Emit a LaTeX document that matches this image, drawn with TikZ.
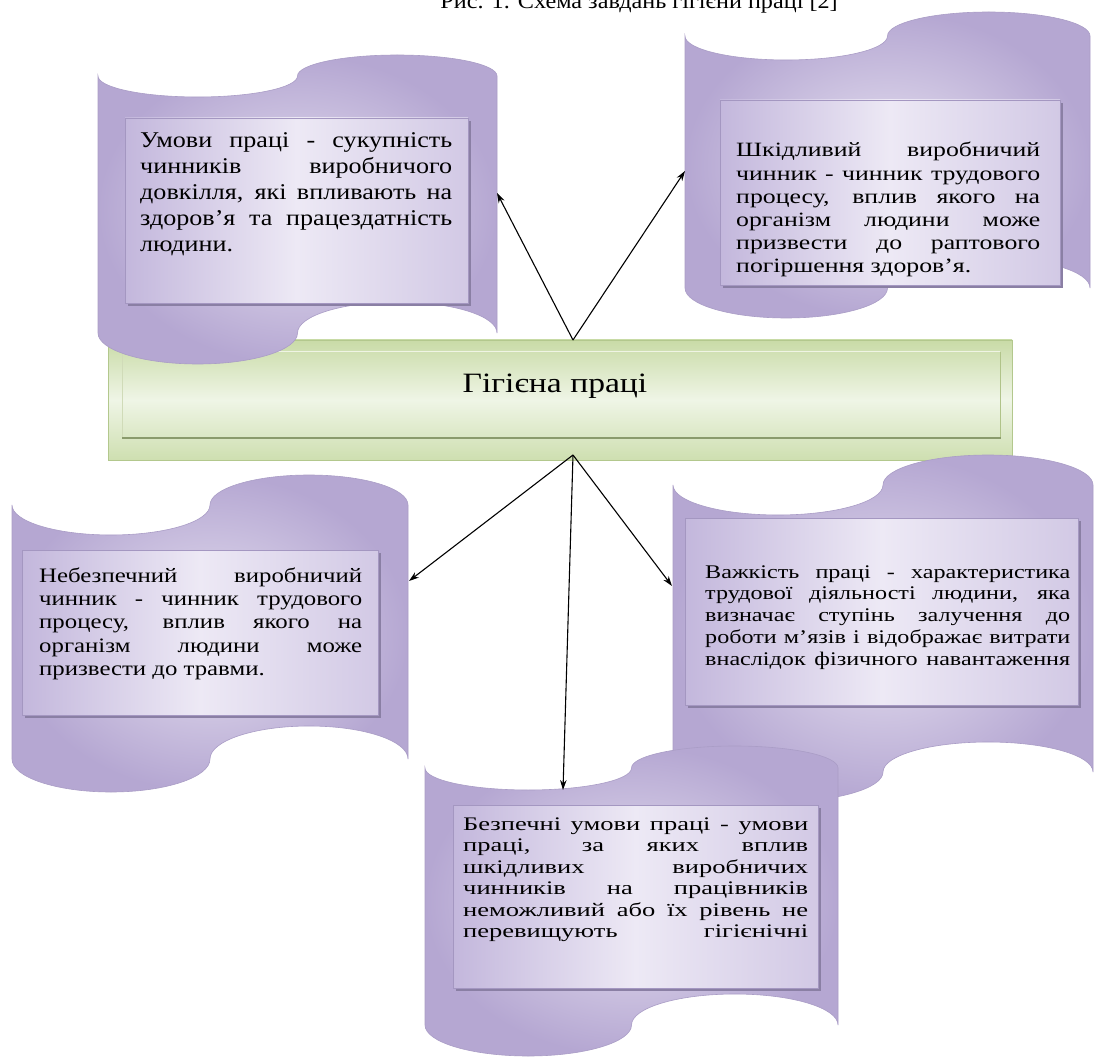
\documentclass[tikz,border=0pt]{standalone}
\usepackage{fontspec}
\setmainfont{Liberation Serif}
\newfontfamily\fTL{Liberation Serif}[FakeStretch=1.16]
\newfontfamily\fTR{Liberation Serif}[FakeStretch=1.27]
\newfontfamily\fBL{Liberation Serif}[FakeStretch=1.21]
\newfontfamily\fBR{Liberation Serif}[FakeStretch=1.25]
\newfontfamily\fB{Liberation Serif}[FakeStretch=1.38]
\newfontfamily\fG{Liberation Serif}[FakeStretch=1.2]
\newfontfamily\fT{Liberation Serif}[FakeStretch=1.1]
\usetikzlibrary{arrows.meta}
\definecolor{pdark}{HTML}{B5A7D2}
\definecolor{plight}{HTML}{E7E2F1}
\definecolor{pedge}{HTML}{AA9DC6}
\definecolor{rleft}{HTML}{C3B7DC}
\definecolor{rmid}{HTML}{EDE9F5}
\definecolor{rright}{HTML}{D2C9E5}
\definecolor{redge}{HTML}{A497C1}
\definecolor{rshadow}{HTML}{8A7FA4}
\definecolor{gtop}{HTML}{C9DBA7}
\definecolor{gmid}{HTML}{EFF5E6}
\definecolor{gbot}{HTML}{CEDFB0}
\definecolor{gedge}{HTML}{B3C88D}
\definecolor{gline}{HTML}{B0C389}
\definecolor{gshadow}{HTML}{8A9B6C}
\newlength\bw
\newcommand\J[1]{\hbox to \bw{#1}}
\newcommand\tbox[5]{\vtop{#1\fontsize{#2}{#4}\selectfont\setlength\bw{#3}\baselineskip=#4pt\relax #5}}
\tikzset{
  tapeshade/.style={inner color=plight, outer color=pdark, draw=pedge, line width=0.6pt},
  rectshade/.style={left color=rleft, right color=rright, middle color=rmid, draw=redge, line width=0.8pt},
  rectshadow/.style={fill=rshadow},
  barshade/.style={top color=gtop, bottom color=gbot, middle color=gmid, draw=gedge, line width=0.8pt},
  arr/.style={-{Stealth[length=10pt,width=6.5pt]}, line width=1.1pt, black},
  txt/.style={inner sep=0pt, anchor=base west, text=black},
}
\newcommand\tape[6]{%
  \pgfmathsetmacro\tw{(#2-#1)/4}%
  \pgfmathsetmacro\tk{0.5523*\tw}%
  \pgfmathsetmacro\xa{#1+\tw}\pgfmathsetmacro\xb{#1+2*\tw}\pgfmathsetmacro\xc{#1+3*\tw}%
  \pgfmathsetmacro\kt{0.5523*#4}\pgfmathsetmacro\kb{0.5523*#6}%
  \shade[tapeshade] (#1,#3) .. controls (#1,#3+\kt) and (\xa-\tk,#3+#4) .. (\xa,#3+#4)
    .. controls (\xa+\tk,#3+#4) and (\xb,#3+\kt) .. (\xb,#3)
    .. controls (\xb,#3-\kt) and (\xc-\tk,#3-#4) .. (\xc,#3-#4)
    .. controls (\xc+\tk,#3-#4) and (#2,#3-\kt) .. (#2,#3)
    -- (#2,#5)
    .. controls (#2,#5-\kb) and (\xc+\tk,#5-#6) .. (\xc,#5-#6)
    .. controls (\xc-\tk,#5-#6) and (\xb,#5-\kb) .. (\xb,#5)
    .. controls (\xb,#5+\kb) and (\xa+\tk,#5+#6) .. (\xa,#5+#6)
    .. controls (\xa-\tk,#5+#6) and (#1,#5+\kb) .. (#1,#5)
    -- cycle;}
\newcommand\irect[4]{%
  \fill[rectshadow] (#1+3,#2+3) rectangle (#3+3,#4+3);
  \shade[rectshade] (#1,#2) rectangle (#3,#4);}
\begin{document}
\begin{tikzpicture}[x=1pt,y=-1pt]
\useasboundingbox (0,0) rectangle (1095,1064);
\fill[white] (0,0) rectangle (1095,1064);
% title (cut off by the top edge, as in the reference)
\node[txt, anchor=base east] (title) at (838,9) {\fT\fontsize{22}{26}\selectfont Рис. 1. Схема завдань гігієни праці [2]};
% central bar
\node[barshade, minimum width=904pt, minimum height=120pt, inner sep=0pt] (hyg) at (560,400) {};
\draw[white!70!gtop, line width=1pt] (122,352) -- (1000,352);
\draw[gline, line width=1pt] (1000,352) -- (1000,438);
\draw[gline!60!white, line width=0.8pt] (122,352) -- (122,438);
\draw[gshadow, line width=2.5pt] (122,438) -- (1001,438);
\node[txt, anchor=base] (hygtxt) at (555,393) {\fG\fontsize{28}{32}\selectfont Гігієна праці};
% wavy shapes
\tape{98}{497}{76}{21}{333}{31}
\tape{685}{1090}{36}{24}{288}{30}
\tape{12}{408}{505}{30}{759}{33}
\tape{673}{1093}{485}{30}{772}{30}
\tape{425}{838}{768}{22}{1025}{31}
% inner boxes
\irect{125}{118}{468}{303}
\irect{720}{100}{1060}{285}
\irect{22}{550}{378}{715}
\irect{685}{518}{1078}{705}
\irect{453}{805}{818}{988}
% texts
\node[txt] (tl) at (140,148) {\tbox{\fTL}{22.5}{312pt}{25.8}{%
  \J{Умови праці - сукупність}
  \J{чинників виробничого}
  \J{довкілля, які впливають на}
  \J{здоров’я та працездатність}
  \hbox{людини.}}};
\node[txt] (tr) at (736,157) {\tbox{\fTR}{20.3}{304pt}{23.2}{%
  \J{Шкідливий виробничий}
  \J{чинник - чинник трудового}
  \J{процесу, вплив якого на}
  \J{організм людини може}
  \J{призвести до раптового}
  \hbox{погіршення здоров’я.}}};
\node[txt] (bl) at (39,582) {\tbox{\fBL}{20.5}{323pt}{23.4}{%
  \J{Небезпечний виробничий}
  \J{чинник - чинник трудового}
  \J{процесу, вплив якого на}
  \J{організм людини може}
  \hbox{призвести до травми.}}};
\node[txt] (br) at (705,578) {\tbox{\fBR}{19.3}{365pt}{21.8}{%
  \J{Важкість праці - характеристика}
  \J{трудової діяльності людини, яка}
  \J{визначає ступінь залучення до}
  \J{роботи м’язів і відображає витрати}
  \J{внаслідок фізичного навантаження}}};
\node[txt] (bm) at (463,830) {\tbox{\fB}{19.2}{345pt}{21.5}{%
  \J{Безпечні умови праці - умови}
  \J{праці, за яких вплив}
  \J{шкідливих виробничих}
  \J{чинників на працівників}
  \J{неможливий або їх рівень не}
  \J{перевищують гігієнічні}}};
% connectors
\coordinate (bartop) at (573,340);
\coordinate (barbot) at (573,455);
\coordinate (tltip) at (497,193);
\coordinate (trtip) at (685,171);
\coordinate (bltip) at (409,581);
\coordinate (brtip) at (672,586);
\coordinate (bmtip) at (563,790);
\draw[arr] (bartop) -- (tltip);
\draw[arr] (bartop) -- (trtip);
\draw[arr] (barbot) -- (bltip);
\draw[arr] (barbot) -- (brtip);
\draw[arr] (barbot) -- (bmtip);
\end{tikzpicture}
\end{document}
